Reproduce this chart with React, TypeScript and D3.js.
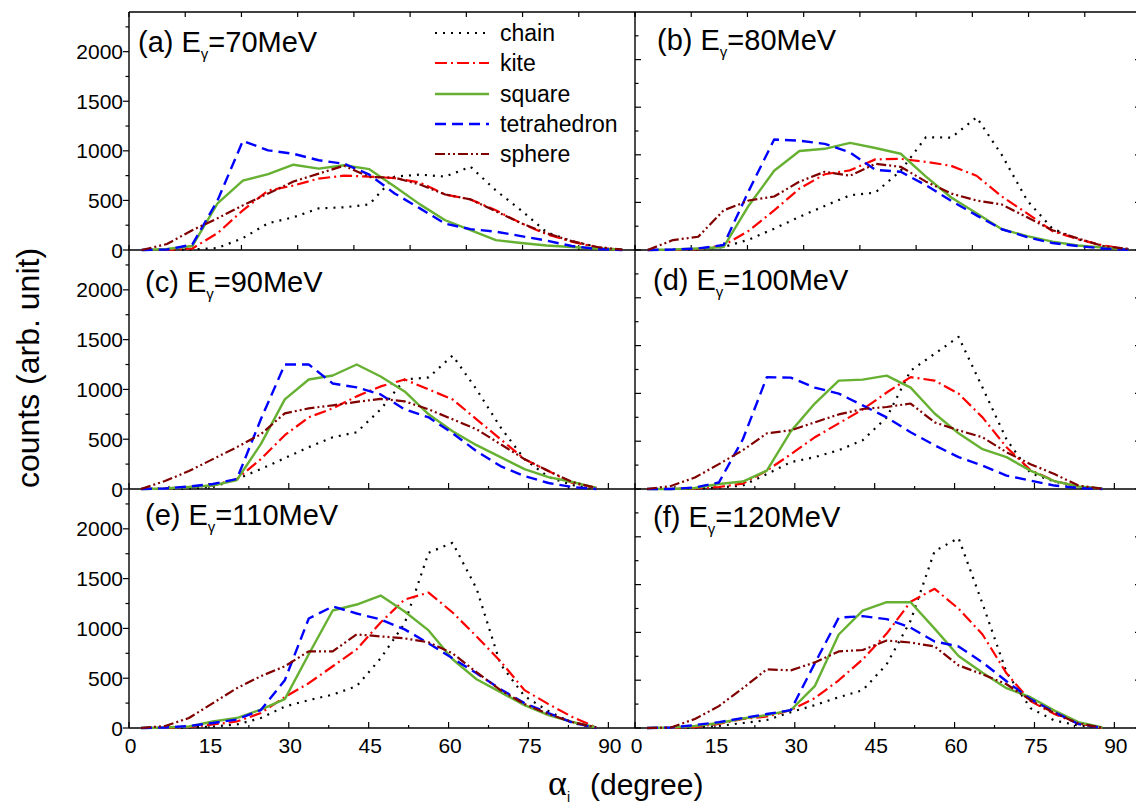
import React from 'react';
import * as d3 from 'd3';

// bin centres (degree), 4.5 degree bins
const alpha = [2.25, 6.75, 11.25, 15.75, 20.25, 24.75, 29.25, 33.75, 38.25, 42.75,
  47.25, 51.75, 56.25, 60.75, 65.25, 69.75, 74.25, 78.75, 83.25, 87.75];

// (a) 70 MeV
const chain70 = [0, 0, 5, 20, 120, 270, 330, 420, 430, 460, 740, 760, 740, 840, 600, 400, 180, 90, 30, 0];
const kite70 = [0, 0, 15, 170, 400, 600, 650, 720, 750, 740, 725, 680, 560, 510, 400, 270, 160, 85, 25, 0];
const square70 = [0, 10, 40, 470, 700, 765, 860, 820, 855, 815, 640, 460, 300, 200, 100, 70, 45, 30, 15, 3];
const tetra70 = [0, 5, 55, 500, 1100, 1005, 970, 905, 870, 760, 570, 420, 265, 210, 185, 140, 95, 40, 10, 0];
const sphere70 = [0, 60, 200, 320, 450, 570, 690, 770, 850, 735, 730, 660, 560, 510, 390, 270, 170, 90, 30, 3];

// (b) 80 MeV
const chain80 = [0, 0, 5, 31, 109, 224, 348, 463, 575, 603, 832, 1185, 1180, 1394, 998, 520, 224, 114, 42, 10];
const kite80 = [0, 0, 10, 47, 203, 416, 645, 796, 837, 952, 957, 926, 884, 780, 562, 385, 198, 114, 47, 10];
const square80 = [0, 5, 16, 31, 468, 832, 1040, 1063, 1125, 1071, 1011, 770, 551, 385, 218, 146, 88, 47, 26, 5];
const tetra80 = [0, 5, 16, 52, 624, 1160, 1149, 1115, 1024, 842, 822, 681, 515, 364, 218, 135, 73, 42, 16, 3];
const sphere80 = [0, 104, 139, 416, 520, 562, 718, 822, 780, 905, 874, 718, 593, 520, 478, 343, 208, 122, 42, 10];

// (c) 90 MeV
const chain90 = [0, 0, 5, 20, 100, 200, 310, 420, 520, 570, 800, 1100, 1120, 1340, 1000, 620, 300, 120, 40, 5];
const kite90 = [0, 5, 20, 35, 100, 300, 540, 720, 810, 930, 1030, 1100, 1000, 900, 700, 500, 300, 180, 60, 10];
const square90 = [0, 5, 20, 35, 90, 450, 900, 1100, 1140, 1250, 1130, 980, 750, 580, 440, 320, 200, 120, 70, 10];
const tetra90 = [0, 5, 25, 50, 100, 700, 1250, 1250, 1060, 1020, 950, 800, 720, 560, 380, 230, 130, 60, 20, 0];
const sphere90 = [0, 80, 180, 300, 420, 550, 760, 810, 840, 875, 905, 880, 800, 700, 600, 450, 300, 180, 70, 10];

// (d) 100 MeV
const chain100 = [0, 0, 5, 16, 36, 156, 281, 333, 406, 510, 749, 1238, 1414, 1591, 1061, 520, 166, 78, 16, 0];
const kite100 = [0, 0, 5, 21, 57, 192, 364, 541, 686, 832, 1009, 1170, 1134, 998, 749, 437, 198, 83, 26, 3];
const square100 = [0, 0, 10, 52, 78, 192, 603, 894, 1134, 1144, 1186, 1061, 790, 582, 416, 333, 192, 83, 26, 5];
const tetra100 = [0, 0, 16, 68, 520, 1170, 1165, 1061, 998, 874, 749, 593, 458, 333, 244, 140, 88, 36, 10, 0];
const sphere100 = [0, 31, 120, 260, 406, 582, 614, 697, 780, 837, 858, 894, 697, 614, 541, 385, 260, 156, 36, 3];

// (e) 110 MeV
const chain110 = [0, 0, 5, 15, 35, 100, 215, 280, 335, 420, 700, 1050, 1760, 1860, 1400, 640, 320, 170, 50, 0];
const kite110 = [0, 0, 10, 35, 65, 150, 310, 450, 620, 790, 1060, 1290, 1360, 1160, 920, 670, 380, 240, 110, 5];
const square110 = [0, 5, 15, 65, 100, 185, 290, 740, 1180, 1240, 1330, 1170, 980, 690, 490, 360, 230, 130, 60, 5];
const tetra110 = [0, 5, 20, 50, 85, 180, 480, 1100, 1220, 1150, 1090, 990, 850, 700, 550, 390, 250, 150, 55, 0];
const sphere110 = [0, 20, 100, 250, 400, 520, 620, 770, 770, 940, 920, 900, 860, 750, 560, 380, 240, 140, 60, 5];

// (f) 120 MeV
const chain120 = [0, 0, 5, 21, 52, 83, 166, 239, 322, 395, 666, 1123, 1851, 1986, 1300, 582, 208, 78, 26, 0];
const kite120 = [0, 0, 10, 42, 94, 120, 187, 312, 499, 718, 988, 1321, 1456, 1248, 978, 572, 281, 146, 47, 0];
const square120 = [0, 5, 21, 52, 99, 135, 187, 437, 978, 1227, 1316, 1316, 1040, 754, 577, 416, 322, 182, 62, 5];
const tetra120 = [0, 5, 31, 62, 104, 146, 187, 676, 1154, 1170, 1139, 1050, 905, 853, 686, 489, 302, 166, 42, 0];
const sphere120 = [0, 5, 94, 229, 416, 614, 603, 686, 801, 816, 915, 894, 853, 655, 562, 458, 291, 156, 47, 3];

const seriesNames = ['chain', 'kite', 'square', 'tetrahedron', 'sphere'];
const yTickLabels = [0, 500, 1000, 1500, 2000];
const xTickLabels = [0, 15, 30, 45, 60, 75, 90];

const styles = [
  { color: '#000000', dash: '2,6', width: 2.2 },
  { color: '#ff0000', dash: '12,4,2,4', width: 2.2 },
  { color: '#66b032', dash: '', width: 2.4 },
  { color: '#0000ff', dash: '11,6', width: 2.4 },
  { color: '#800000', dash: '10,3,2,3,2,3', width: 2.2 },
];

const panels = [
  { tag: '(a)', energy: '=70MeV', col: 0, row: 0, xMax: 90, yMax: 2400, values: [chain70, kite70, square70, tetra70, sphere70] },
  { tag: '(b)', energy: '=80MeV', col: 1, row: 0, xMax: 90, yMax: 2500, values: [chain80, kite80, square80, tetra80, sphere80] },
  { tag: '(c)', energy: '=90MeV', col: 0, row: 1, xMax: 95, yMax: 2400, values: [chain90, kite90, square90, tetra90, sphere90] },
  { tag: '(d)', energy: '=100MeV', col: 1, row: 1, xMax: 95, yMax: 2500, values: [chain100, kite100, square100, tetra100, sphere100] },
  { tag: '(e)', energy: '=110MeV', col: 0, row: 2, xMax: 95, yMax: 2400, values: [chain110, kite110, square110, tetra110, sphere110] },
  { tag: '(f)', energy: '=120MeV', col: 1, row: 2, xMax: 95, yMax: 2500, values: [chain120, kite120, square120, tetra120, sphere120] },
];

// layout
const colLeft = [129, 635];
const colWidth = 506;
const rowTop = [12, 250, 489];
const rowBottom = [250, 489, 728];
const titlePos = [[138, 52], [657, 50], [145, 292], [653, 290], [145, 525], [653, 527]];
const font = 'Liberation Sans, Arial, Helvetica, sans-serif';

const PanelView = ({ p, idx }: { p: any; idx: number }) => {
  const x0 = colLeft[p.col];
  const x1 = x0 + colWidth;
  const top = rowTop[p.row];
  const bottom = rowBottom[p.row];
  const x = d3.scaleLinear().domain([0, p.xMax]).range([x0, x1]);
  const y = d3.scaleLinear().domain([0, p.yMax]).range([bottom, top]);
  const line = d3.line<number>().x((d, i) => x(alpha[i])).y(d => y(d));

  const xStep = p.row === 0 ? 10 : 7.5;
  const xTicks = d3.range(0, p.xMax + 0.01, xStep);
  const yTicks = d3.range(0, p.yMax - 1, 250);
  const [tx, ty] = titlePos[idx];

  return (
    <g>
      {/* bottom axis */}
      <line x1={x0} x2={x1} y1={bottom} y2={bottom} stroke="#000" strokeWidth={1.4} />
      {xTicks.map(t => {
        const len = p.row === 0 ? 5 : (t % 15 === 0 ? 6 : 3);
        return <line key={'xt' + t} x1={x(t)} x2={x(t)} y1={bottom} y2={bottom - len} stroke="#000" strokeWidth={1.2} />;
      })}
      {p.row === 0 && (
        <g>
          <line x1={x0} x2={x1} y1={top} y2={top} stroke="#000" strokeWidth={1.4} />
          {xTicks.map(t => (
            <line key={'tt' + t} x1={x(t)} x2={x(t)} y1={top} y2={top + 5} stroke="#000" strokeWidth={1.2} />
          ))}
        </g>
      )}
      {/* left axis */}
      <line x1={x0} x2={x0} y1={top} y2={bottom} stroke="#000" strokeWidth={1.4} />
      {yTicks.map(t => {
        const len = t % 500 === 0 ? 6 : 3.5;
        const dir = p.col === 0 ? -1 : 1;
        return <line key={'yt' + t} x1={x0} x2={x0 + dir * len} y1={y(t)} y2={y(t)} stroke="#000" strokeWidth={1.2} />;
      })}
      {p.col === 1 && (
        <g>
          <line x1={x1} x2={x1} y1={top} y2={bottom} stroke="#000" strokeWidth={1.4} />
          {yTicks.map(t => {
            const len = t % 500 === 0 ? 6 : 3.5;
            return <line key={'rt' + t} x1={x1} x2={x1 - len} y1={y(t)} y2={y(t)} stroke="#000" strokeWidth={1.2} />;
          })}
        </g>
      )}
      {p.col === 0 && yTickLabels.map(t => (
        <text key={'yl' + t} x={x0 - 6} y={y(t)} dy="0.36em" textAnchor="end" fontSize={21} fontFamily={font} fill="#000">{t}</text>
      ))}
      {p.row === 2 && xTickLabels.map(t => (
        <text key={'xl' + t} x={x(t) + 1.5} y={753} textAnchor="middle" fontSize={21} fontFamily={font} fill="#000">{t}</text>
      ))}
      {/* curves */}
      {p.values.map((vals: number[], si: number) => (
        <path key={'s' + si} d={line(vals) || ''} fill="none" stroke={styles[si].color}
          strokeWidth={styles[si].width} strokeDasharray={styles[si].dash || undefined} strokeLinejoin="round" />
      ))}
      {/* title */}
      <text x={tx} y={ty} fontSize={29} fontFamily={font} fill="#000">
        {p.tag} E<tspan fontSize={15} dy={7}>γ</tspan><tspan dy={-7}>{p.energy}</tspan>
      </text>
    </g>
  );
};

const Legend = () => {
  const rows = [33, 63, 94, 124, 154];
  return (
    <g>
      {seriesNames.map((name, i) => (
        <g key={name}>
          <line x1={435} x2={489} y1={rows[i]} y2={rows[i]} stroke={styles[i].color}
            strokeWidth={styles[i].width} strokeDasharray={styles[i].dash || undefined} />
          <text x={500} y={rows[i]} dy="0.36em" fontSize={23} fontFamily={font} fill="#000">{name}</text>
        </g>
      ))}
    </g>
  );
};

export default function App() {
  return (
    <svg width={1136} height={805} style={{ position: 'absolute', left: 0, top: 0, background: '#fff' }}>
      <rect x={0} y={0} width={1136} height={805} fill="#fff" />
      {panels.map((p, i) => <PanelView key={p.tag} p={p} idx={i} />)}
      <Legend />
      <text transform="translate(39,368) rotate(-90)" textAnchor="middle" fontSize={32} fontFamily={font} fill="#000">
        counts (arb. unit)
      </text>
      <text x={548} y={795} fontSize={36} fontFamily="Liberation Serif, Times New Roman, serif" fill="#000">α</text>
      <text x={567} y={802} fontSize={14} fontFamily={font} fill="#000">i</text>
      <text x={590} y={795} fontSize={30} fontFamily={font} fill="#000">(degree)</text>
    </svg>
  );
}
